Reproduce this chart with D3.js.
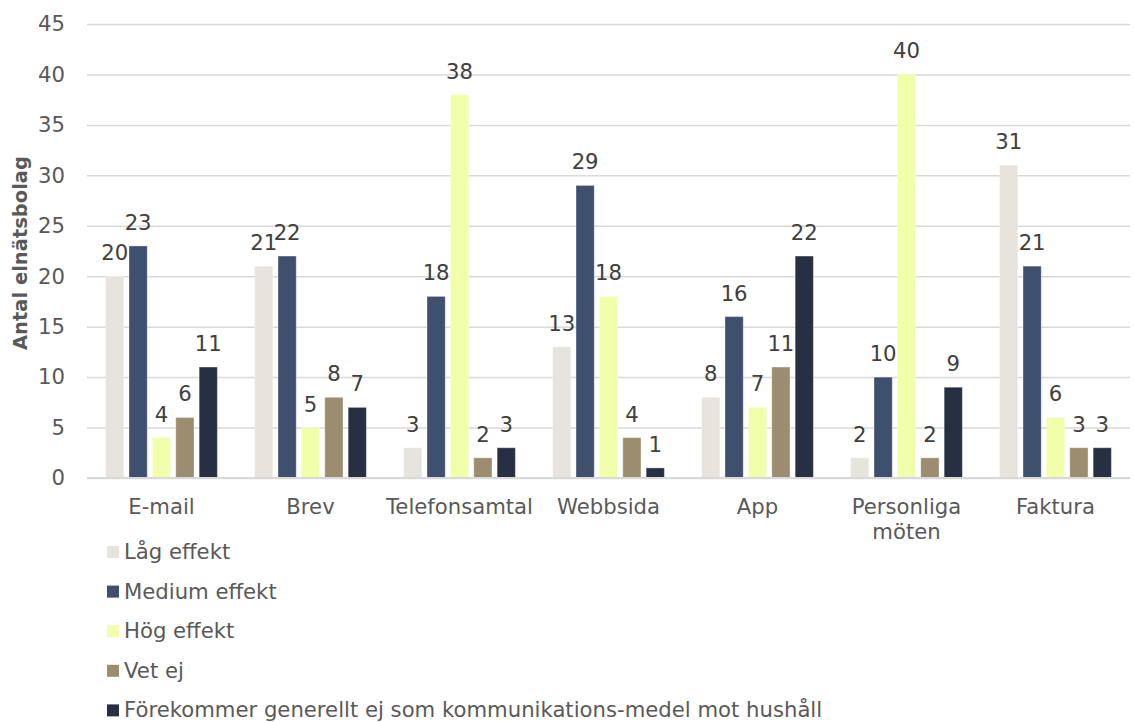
<!DOCTYPE html>
<html>
<head>
<meta charset="utf-8">
<script src="https://cdn.jsdelivr.net/npm/d3@7"></script>
<style>
  html, body { margin: 0; padding: 0; background: #fff; }
  svg { display: block; font-family: "DejaVu Sans", Verdana, sans-serif; }
</style>
</head>
<body>
<div id="chart"></div>
<script>
// Kommunikationskanaler och hur många elnätsbolag som bedömer deras effekt
const categories = ["E-mail", "Brev", "Telefonsamtal", "Webbsida", "App", "Personliga möten", "Faktura"];
const seriesNames = ["Låg effekt", "Medium effekt", "Hög effekt", "Vet ej",
  "Förekommer generellt ej som kommunikations-medel mot hushåll"];
const seriesColors = ["#E7E4DE", "#3F4F6E", "#F1FEAA", "#9D8D70", "#263042"];
const lagEffekt      = [20, 21, 3, 13, 8, 2, 31];
const mediumEffekt   = [23, 22, 18, 29, 16, 10, 21];
const hogEffekt      = [4, 5, 38, 18, 7, 40, 6];
const vetEj          = [6, 8, 2, 4, 11, 2, 3];
const forekommerEj   = [11, 7, 3, 1, 22, 9, 3];
const yTicks = [0, 5, 10, 15, 20, 25, 30, 35, 40, 45];
const yTitle = "Antal elnätsbolag";

const seriesValues = [lagEffekt, mediumEffekt, hogEffekt, vetEj, forekommerEj];

const W = 1134, H = 722;
const plot = { left: 87, right: 1130, top: 24, bottom: 478 };
const FONT = "21.2px";

const svg = d3.select("#chart").append("svg")
  .attr("width", W).attr("height", H);

const y = d3.scaleLinear().domain([0, 45]).range([plot.bottom, plot.top]);
const x = d3.scaleBand().domain(categories).range([plot.left, plot.right])
  .paddingInner(0.25).paddingOuter(0.125);
const xs = d3.scaleBand().domain(d3.range(seriesNames.length))
  .range([0, x.bandwidth()]).paddingInner(0.22).paddingOuter(0);

// Gridlines and value axis
const yAxis = svg.append("g")
  .attr("transform", `translate(${plot.left},0)`)
  .call(d3.axisLeft(y).tickValues(yTicks)
    .tickSize(-(plot.right - plot.left)).tickPadding(22));
yAxis.select(".domain").remove();
yAxis.selectAll(".tick line")
  .attr("stroke", "#D9D9D9").attr("stroke-width", 1.5);
yAxis.selectAll(".tick text")
  .attr("fill", "#595959").style("font-size", FONT)
  .style("font-family", "DejaVu Sans, Verdana, sans-serif");

// Bars
const rows = categories.map((c, i) => ({
  cat: c,
  vals: seriesValues.map((s, k) => ({ k, v: s[i] }))
}));

const groups = svg.append("g").selectAll("g").data(rows).join("g")
  .attr("transform", d => `translate(${x(d.cat)},0)`);

groups.selectAll("rect").data(d => d.vals).join("rect")
  .attr("x", d => xs(d.k))
  .attr("width", xs.bandwidth())
  .attr("y", d => y(d.v))
  .attr("height", d => y(0) - y(d.v))
  .attr("fill", d => seriesColors[d.k])
  .attr("stroke", "#ffffff").attr("stroke-opacity", 0.35).attr("stroke-width", 1);

// Category axis baseline
svg.append("line")
  .attr("x1", plot.left).attr("x2", plot.right)
  .attr("y1", y(0)).attr("y2", y(0))
  .attr("stroke", "#D9D9D9").attr("stroke-width", 2);

// Value labels
groups.selectAll("text").data(d => d.vals).join("text")
  .attr("x", d => xs(d.k) + xs.bandwidth() / 2)
  .attr("y", d => y(d.v) - 16)
  .attr("text-anchor", "middle")
  .attr("fill", "#404040")
  .style("font-size", FONT)
  .text(d => d.v);

// Category labels (wrapped to band width)
const xAxis = svg.append("g")
  .attr("transform", `translate(0,${plot.bottom})`)
  .call(d3.axisBottom(x).tickSize(0).tickPadding(0));
xAxis.select(".domain").remove();
xAxis.selectAll(".tick text")
  .attr("fill", "#595959").style("font-size", FONT)
  .style("font-family", "DejaVu Sans, Verdana, sans-serif")
  .attr("dy", null).attr("y", 36)
  .each(function (d) {
    const t = d3.select(this);
    const words = d.split(" ");
    const maxW = x.step();
    t.text(null);
    let line = [];
    let tspan = t.append("tspan").attr("x", 0).attr("y", 36);
    let lineNo = 0;
    words.forEach(w => {
      line.push(w);
      tspan.text(line.join(" "));
      if (tspan.node().getComputedTextLength() > maxW && line.length > 1) {
        line.pop();
        tspan.text(line.join(" "));
        line = [w];
        lineNo++;
        tspan = t.append("tspan").attr("x", 0).attr("y", 36 + lineNo * 25).text(w);
      }
    });
  });

// Y axis title
svg.append("text")
  .attr("transform", `translate(27,253) rotate(-90)`)
  .attr("text-anchor", "middle")
  .attr("fill", "#595959")
  .style("font-size", "19.5px").style("font-weight", "bold")
  .text(yTitle);

// Legend
const legend = svg.append("g").selectAll("g").data(seriesNames).join("g")
  .attr("transform", (d, i) => `translate(107,${559 + i * 39.6})`);
legend.append("rect")
  .attr("x", 0).attr("y", -13).attr("width", 12).attr("height", 12)
  .attr("fill", (d, i) => seriesColors[i]);
legend.append("text")
  .attr("x", 17).attr("y", 0)
  .attr("fill", "#595959").style("font-size", FONT)
  .text(d => d);
</script>
</body>
</html>
